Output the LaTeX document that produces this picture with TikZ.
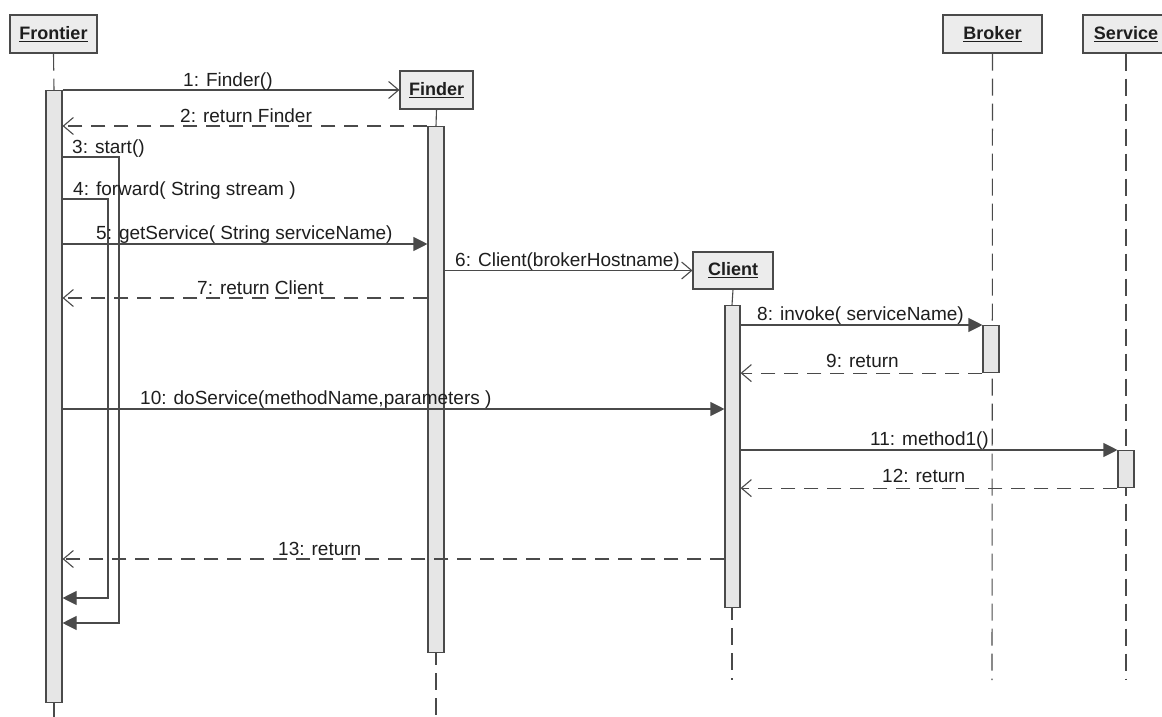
\documentclass[tikz,border=0pt]{standalone}
\usepackage{fontspec}
\setmainfont{Liberation Sans}
\usepackage{xcolor}
\usepackage{tikz}
\usetikzlibrary{arrows.meta}
\usetikzlibrary{calc,positioning}

\definecolor{linegray}{HTML}{4A4A4A}
\definecolor{boxgray}{HTML}{ECECEC}
\definecolor{bargray}{HTML}{E6E6E6}
\definecolor{txtgray}{HTML}{1E1E1E}

\tikzset{
    obj/.style={draw=linegray, fill=boxgray, line width=1.1pt, minimum height=38pt,
        inner sep=0pt, font=\fontsize{18}{20}\selectfont\bfseries, text=txtgray},
    actbar/.style={draw=linegray, fill=bargray, line width=1.1pt, minimum width=16pt, inner sep=0pt},
    lifeline/.style={draw=linegray, line width=1.1pt, dash pattern=on 17pt off 8pt},
    call/.style={draw=linegray, line width=1.1pt,
        -{Triangle[length=14pt,width=14pt,fill=linegray]}},
    create/.style={draw=linegray, line width=1.1pt, -{Straight Barb[length=10pt,width=17pt]}},
    reply/.style={create, dash pattern=on 14pt off 9pt},
    msg/.style={anchor=base west, inner sep=0pt, text=txtgray}
}

\begin{document}
\begin{tikzpicture}[x=1pt, y=-1pt, font=\fontsize{19}{21}\selectfont]

    \useasboundingbox[fill=white] (0,0) rectangle (1162,717);

    % Objects
    \node[obj, minimum width=87pt] (frontier) at (53.5,34) {\underline{Frontier}};
    \node[obj, minimum width=73pt] (finder) at (436.5,90) {\underline{Finder}};
    \node[obj, minimum width=80pt, minimum height=37pt] (client) at (733,270.5) {\underline{Client}};
    \node[obj, minimum width=99pt] (broker) at (992.5,34) {\underline{Broker}};
    \node[obj, minimum width=86pt] (service) at (1126,34) {\underline{Service}};

    % Ends of the lifelines
    \coordinate (fend) at (54,717);
    \coordinate (iend) at (436,717);
    \coordinate (cend) at (732,680);
    \coordinate (bend) at (992,680);
    \coordinate (send) at (1126,680);

    % Lifelines
    \draw[lifeline] (frontier.south) -- (54,90);
    \draw[lifeline] (54,702) -- (fend);
    \draw[linegray, line width=1.1pt] (finder.south) -- (436,126);
    \draw[lifeline, dash phase=4pt] (436,652) -- (iend);
    \draw[linegray, line width=1.1pt] (client.south) -- (732,305);
    \draw[lifeline, dash phase=4pt] (732,607) -- (cend);
    \draw[lifeline] (broker.south) -- (bend);
    \draw[lifeline] (service.south) -- (send);

    % Activation bars
    \node[actbar, anchor=north, minimum height=612pt] (fbar) at (54,90) {};
    \node[actbar, anchor=north, minimum height=526pt] (ibar) at (436,126) {};
    \node[actbar, anchor=north, minimum height=302pt, minimum width=15pt] (cbar) at (732.5,305) {};
    \node[actbar, anchor=north, minimum height=47pt] (bbar) at (991,325) {};
    \node[actbar, anchor=north, minimum height=37pt] (sbar) at (1126,450) {};

    % Turning points of the self calls
    \coordinate (t3) at (119,157);
    \coordinate (b3) at (119,623);
    \coordinate (t4) at (108,199);
    \coordinate (b4) at (108,598);

    % Messages
    \draw[create] (fbar.east |- finder.west) -- (finder.west);
    \draw[reply] (ibar.north west) -- (fbar.east |- ibar.north);
    \draw[call] (fbar.east |- t3) -- (t3) -- (b3) -- (fbar.east |- b3);
    \draw[call] (fbar.east |- t4) -- (t4) -- (b4) -- (fbar.east |- b4);
    \draw[call] (fbar.east |- 0,244) -- (ibar.west |- 0,244);
    \draw[create] (ibar.east |- client.west) -- (client.west);
    \draw[reply] (ibar.west |- 0,298) -- (fbar.east |- 0,298);
    \draw[call] (cbar.east |- bbar.north) -- (bbar.north west);
    \draw[reply] (bbar.south west) -- (cbar.east |- bbar.south);
    \draw[call] (fbar.east |- 0,409) -- (cbar.west |- 0,409);
    \draw[call] (cbar.east |- sbar.north) -- (sbar.north west);
    \draw[reply] (sbar.south west) -- (cbar.east |- sbar.south);
    \draw[reply] (cbar.west |- 0,559) -- (fbar.east |- 0,559);

    % Labels
    \node[msg] (l1) at (183,86) {1: Finder()};
    \node[msg] (l2) at (180,122) {2: return Finder};
    \node[msg] (l3) at (72,153) {3: start()};
    \node[msg] (l4) at (73,195) {4: forward( String stream )};
    \node[msg] (l5) at (96,239) {5: getService( String serviceName)};
    \node[msg] (l6) at (455,266) {6: Client(brokerHostname)};
    \node[msg] (l7) at (197,294) {7: return Client};
    \node[msg] (l8) at (757,320) {8: invoke( serviceName)};
    \node[msg] (l9) at (826,367) {9: return};
    \node[msg] (l10) at (140,404) {10: doService(methodName,parameters )};
    \node[msg] (l11) at (870,445) {11: method1()};
    \node[msg] (l12) at (882,482) {12: return};
    \node[msg] (l13) at (278,555) {13: return};

\end{tikzpicture}
\end{document}
